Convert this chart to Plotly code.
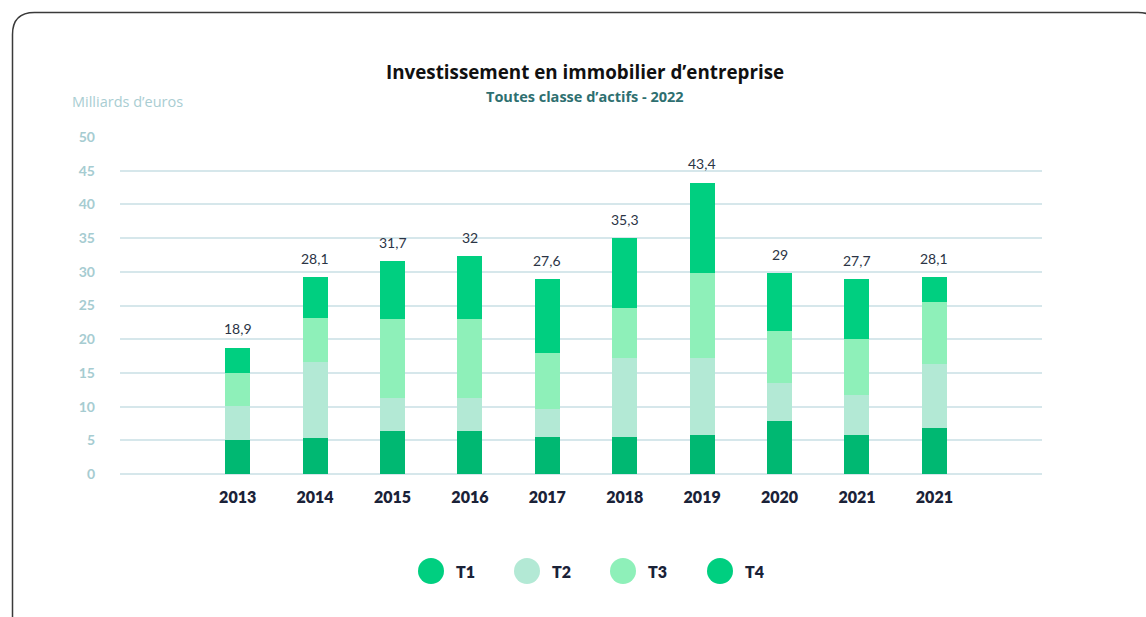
import plotly.graph_objects as go

# ---- data ----
years = ["2013", "2014", "2015", "2016", "2017", "2018", "2019", "2020", "2021", "2021"]
series_names = ["T1", "T2", "T3", "T4"]
t1 = [5.0, 5.3, 6.4, 6.4, 5.5, 5.5, 5.8, 7.9, 5.8, 6.8]
t2 = [5.1, 11.3, 4.9, 4.9, 4.1, 11.7, 11.4, 5.6, 5.9, 9.5]
t3 = [4.9, 6.5, 11.7, 11.7, 8.4, 7.4, 12.6, 7.7, 8.3, 9.2]
t4 = [3.7, 6.1, 8.6, 9.3, 10.9, 10.4, 13.4, 8.6, 8.9, 3.7]
total_labels = ["18,9", "28,1", "31,7", "32", "27,6", "35,3", "43,4", "29", "27,7", "28,1"]
y_ticks = [0, 5, 10, 15, 20, 25, 30, 35, 40, 45, 50]

bar_colors = ["#00B872", "#B3E9D5", "#8EF0B9", "#00CF80"]
legend_colors = ["#00CF80", "#B3E9D5", "#8EF0B9", "#00CF80"]

FONT = "Lato"
FONT2 = "Open Sans"
W, H = 1146, 617
ML, MR, MT, MB = 120, 104, 137, 143
PW, PH = W - ML - MR, H - MT - MB

def px2paper(px, py):
    return (px - ML) / PW, (H - MB - py) / PH

x_idx = list(range(len(years)))
fig = go.Figure()
for name, vals, col in zip(series_names, [t1, t2, t3, t4], bar_colors):
    fig.add_trace(go.Bar(x=x_idx, y=vals, name=name, marker=dict(color=col, line=dict(width=0)),
                         width=0.323, showlegend=False, hoverinfo="y+name"))

totals = [a + b + c + d for a, b, c, d in zip(t1, t2, t3, t4)]
for i, (tot, lab) in enumerate(zip(totals, total_labels)):
    fig.add_annotation(x=i, y=tot, text=lab, showarrow=False, yanchor="middle", yshift=19,
                       font=dict(family=FONT, size=14, color="#2B3445"))

# titles
tx, ty = px2paper(585, 72)
fig.add_annotation(xref="paper", yref="paper", x=tx, y=ty, text="Investissement en immobilier d’entreprise",
                   showarrow=False, xanchor="center", yanchor="middle",
                   font=dict(family=FONT2, size=18.8, color="#111111", weight=700))
sx, sy = px2paper(585, 97)
fig.add_annotation(xref="paper", yref="paper", x=sx, y=sy, text="Toutes classe d’actifs - 2022",
                   showarrow=False, xanchor="center", yanchor="middle",
                   font=dict(family=FONT2, size=14.5, color="#2E6F70", weight=700))
ux, uy = px2paper(70, 101)
fig.add_annotation(xref="paper", yref="paper", x=ux, y=uy, text="Milliards d’euros",
                   showarrow=False, xanchor="left", yanchor="middle",
                   font=dict(family=FONT2, size=14.5, color="#A9CDD2"))

# custom legend (large circles)
legend_px = [431, 527, 623, 720]
for name, col, cx in zip(series_names, legend_colors, legend_px):
    ax, ay = px2paper(cx, 571)
    fig.add_shape(type="circle", xref="paper", yref="paper", xsizemode="pixel", ysizemode="pixel",
                  xanchor=ax, yanchor=ay, x0=-13, x1=13, y0=-13, y1=13,
                  fillcolor=col, line=dict(width=0))
    lx, ly = px2paper(cx + 23, 571)
    fig.add_annotation(xref="paper", yref="paper", x=lx, y=ly, text=name, showarrow=False,
                       xanchor="left", yanchor="middle",
                       font=dict(family=FONT, size=16, color="#1A2238", weight=800))

# card border with rounded corners
xl, yt = px2paper(12.5, 12.5)
xr, yb = px2paper(1160, 660)
dx, dy = 22 / PW, 22 / PH
path = (f"M {xl},{yb} L {xl},{yt-dy} Q {xl},{yt} {xl+dx},{yt} "
        f"L {xr-dx},{yt} Q {xr},{yt} {xr},{yt-dy} L {xr},{yb}")
fig.add_shape(type="path", xref="paper", yref="paper", path=path, line=dict(color="#3A3A3A", width=1.5))

fig.update_layout(
    width=W, height=H, barmode="stack", bargap=0,
    margin=dict(l=ML, r=MR, t=MT, b=MB),
    paper_bgcolor="white", plot_bgcolor="white",
    showlegend=False,
    xaxis=dict(range=[-1.52, 10.39], tickmode="array", tickvals=x_idx, ticktext=years,
               showgrid=False, zeroline=False, showline=False, ticks="",
               ticklabelstandoff=12,
               tickfont=dict(family=FONT, size=16, color="#1A2238", weight=800)),
    yaxis=dict(range=[0, 50], tickmode="array", tickvals=y_ticks, showgrid=True,
               gridcolor="#D6E7EB", gridwidth=2, zeroline=True, zerolinecolor="#D6E7EB", zerolinewidth=2,
               showline=False, ticks="", ticklabelstandoff=24,
               tickfont=dict(family=FONT, size=14, color="#A6CCD1", weight=700)),
)

fig.write_html("out.html", config={"displayModeBar": False},
               post_script="document.body.style.margin='0px';")
